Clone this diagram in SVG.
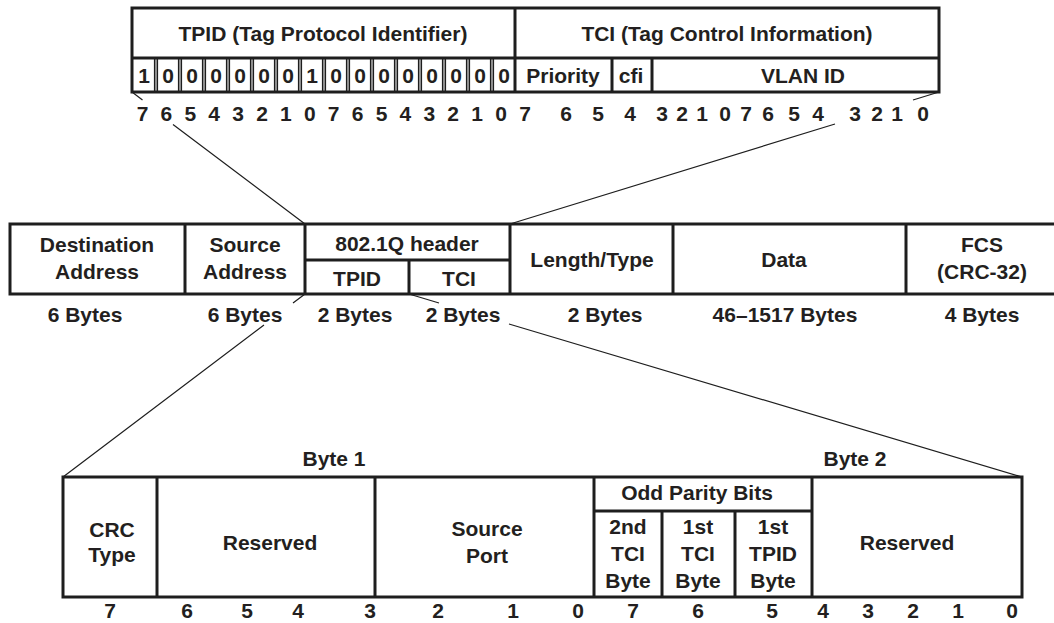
<svg xmlns="http://www.w3.org/2000/svg" width="1054" height="623" viewBox="0 0 1054 623">
<style>
.t{font-family:"Liberation Sans",Arial,Helvetica,sans-serif;font-weight:bold;font-size:21px;fill:#231f20;text-anchor:middle}
.b{fill:#fff;stroke:#1e1e1e;stroke-width:3}
.l{stroke:#1e1e1e;stroke-width:3;fill:none}
.d{stroke:#1e1e1e;stroke-width:1.6;fill:none}
.c{stroke:#1e1e1e;stroke-width:1.2;fill:none}
</style>
<rect width="1054" height="623" fill="#fff"/>

<g id="connectors">
<path class="c" d="M132,92 L142.5,100 M173,124.5 L305,224"/>
<path class="c" d="M939,92 L913,100 M835,124 L510,224"/>
<path class="c" d="M305,294 L293,303 M264,325 L63,477"/>
<path class="c" d="M409,294 L439,303 M509,324 L1022,477"/>
</g>

<g id="tag-detail">
<rect class="b" x="132" y="8" width="807" height="84"/>
<path class="l" d="M132,58 H939 M515,8 V92 M612,58 V92 M652,58 V92"/>
<path class="d" d="M154.7,58 V92 M157.3,58 V92 M178.7,58 V92 M181.3,58 V92 M202.7,58 V92 M205.3,58 V92 M226.7,58 V92 M229.3,58 V92 M250.7,58 V92 M253.3,58 V92 M274.7,58 V92 M277.3,58 V92 M298.7,58 V92 M301.3,58 V92 M322.7,58 V92 M325.3,58 V92 M346.7,58 V92 M349.3,58 V92 M370.7,58 V92 M373.3,58 V92 M394.7,58 V92 M397.3,58 V92 M418.7,58 V92 M421.3,58 V92 M442.7,58 V92 M445.3,58 V92 M466.7,58 V92 M469.3,58 V92 M490.7,58 V92 M493.3,58 V92"/>
<text class="t" x="323" y="41">TPID (Tag Protocol Identifier)</text>
<text class="t" x="727" y="41">TCI (Tag Control Information)</text>
<g class="t">
<text class="t" x="144" y="83">1</text><text class="t" x="168" y="83">0</text><text class="t" x="192" y="83">0</text><text class="t" x="216" y="83">0</text>
<text class="t" x="240" y="83">0</text><text class="t" x="264" y="83">0</text><text class="t" x="288" y="83">0</text><text class="t" x="312" y="83">1</text>
<text class="t" x="336" y="83">0</text><text class="t" x="360" y="83">0</text><text class="t" x="384" y="83">0</text><text class="t" x="408" y="83">0</text>
<text class="t" x="432" y="83">0</text><text class="t" x="456" y="83">0</text><text class="t" x="480" y="83">0</text><text class="t" x="504" y="83">0</text>
</g>
<text class="t" x="563" y="83">Priority</text>
<text class="t" x="631" y="83">cfi</text>
<text class="t" x="803" y="83">VLAN ID</text>
<text class="t" x="142.5" y="121">7</text><text class="t" x="166.4" y="121">6</text><text class="t" x="190.3" y="121">5</text><text class="t" x="214.2" y="121">4</text>
<text class="t" x="238.1" y="121">3</text><text class="t" x="262" y="121">2</text><text class="t" x="285.9" y="121">1</text><text class="t" x="309.8" y="121">0</text>
<text class="t" x="333.7" y="121">7</text><text class="t" x="357.6" y="121">6</text><text class="t" x="381.5" y="121">5</text><text class="t" x="405.4" y="121">4</text>
<text class="t" x="429.3" y="121">3</text><text class="t" x="453.2" y="121">2</text><text class="t" x="477.1" y="121">1</text><text class="t" x="501" y="121">0</text>
<text class="t" x="525" y="121">7</text><text class="t" x="566" y="121">6</text><text class="t" x="598" y="121">5</text><text class="t" x="630" y="121">4</text>
<text class="t" x="662" y="121">3</text><text class="t" x="682" y="121">2</text><text class="t" x="702" y="121">1</text><text class="t" x="725" y="121">0</text>
<text class="t" x="746" y="121">7</text><text class="t" x="768" y="121">6</text><text class="t" x="794" y="121">5</text><text class="t" x="818" y="121">4</text>
<text class="t" x="855" y="121">3</text><text class="t" x="877" y="121">2</text><text class="t" x="897" y="121">1</text><text class="t" x="923" y="121">0</text>
</g>

<g id="ethernet-frame">
<rect x="10" y="224" width="1050" height="70" fill="#fff"/>
<path class="l" d="M10,224 H1054 M10,294 H1054 M10,222.5 V295.5 M185,224 V294 M305,224 V294 M510,224 V294 M673,224 V294 M906,224 V294 M305,260 H510 M409,260 V294"/>
<g id="dest">
<text class="t" x="97" y="252">Destination</text>
<text class="t" x="97" y="279">Address</text>
<text class="t" x="85" y="322">6 Bytes</text>
</g>
<g id="source">
<text class="t" x="245" y="252">Source</text>
<text class="t" x="245" y="279">Address</text>
<text class="t" x="245" y="322">6 Bytes</text>
</g>
<g id="header8021q">
<text class="t" x="407" y="251">802.1Q header</text>
<text class="t" x="357" y="286">TPID</text>
<text class="t" x="459" y="286">TCI</text>
<text class="t" x="355" y="322">2 Bytes</text>
<text class="t" x="463" y="322">2 Bytes</text>
</g>
<g id="lengthtype">
<text class="t" x="592" y="267">Length/Type</text>
<text class="t" x="605" y="322">2 Bytes</text>
</g>
<g id="data">
<text class="t" x="784" y="267">Data</text>
<text class="t" x="785" y="322">46–1517 Bytes</text>
</g>
<g id="fcs">
<text class="t" x="982" y="252">FCS</text>
<text class="t" x="982" y="279">(CRC-32)</text>
<text class="t" x="982" y="322">4 Bytes</text>
</g>
</g>

<g id="tag-bytes">
<rect class="b" x="63" y="477" width="959" height="120"/>
<path class="l" d="M157,477 V597 M375,477 V597 M594,477 V597 M812,477 V597 M594,511 H812 M662,511 V597 M735,511 V597"/>
<text class="t" x="334" y="466">Byte 1</text>
<text class="t" x="855" y="466">Byte 2</text>
<g id="crctype"><text class="t" x="112" y="537">CRC</text><text class="t" x="112" y="562">Type</text></g>
<g id="reserved1"><text class="t" x="270" y="550">Reserved</text></g>
<g id="sourceport"><text class="t" x="487" y="536">Source</text><text class="t" x="487" y="563">Port</text></g>
<g id="parity">
<text class="t" x="697" y="500">Odd Parity Bits</text>
<text class="t" x="628" y="534">2nd</text><text class="t" x="628" y="561">TCI</text><text class="t" x="628" y="588">Byte</text>
<text class="t" x="698" y="534">1st</text><text class="t" x="698" y="561">TCI</text><text class="t" x="698" y="588">Byte</text>
<text class="t" x="773" y="534">1st</text><text class="t" x="773" y="561">TPID</text><text class="t" x="773" y="588">Byte</text>
</g>
<g id="reserved2"><text class="t" x="907" y="550">Reserved</text></g>
<text class="t" x="110" y="618">7</text><text class="t" x="187" y="618">6</text><text class="t" x="247" y="618">5</text><text class="t" x="298" y="618">4</text>
<text class="t" x="370" y="618">3</text><text class="t" x="438" y="618">2</text><text class="t" x="513" y="618">1</text><text class="t" x="578" y="618">0</text>
<text class="t" x="633" y="618">7</text><text class="t" x="698" y="618">6</text><text class="t" x="772" y="618">5</text><text class="t" x="823" y="618">4</text>
<text class="t" x="868" y="618">3</text><text class="t" x="913" y="618">2</text><text class="t" x="958" y="618">1</text><text class="t" x="1012" y="618">0</text>
</g>
</svg>
